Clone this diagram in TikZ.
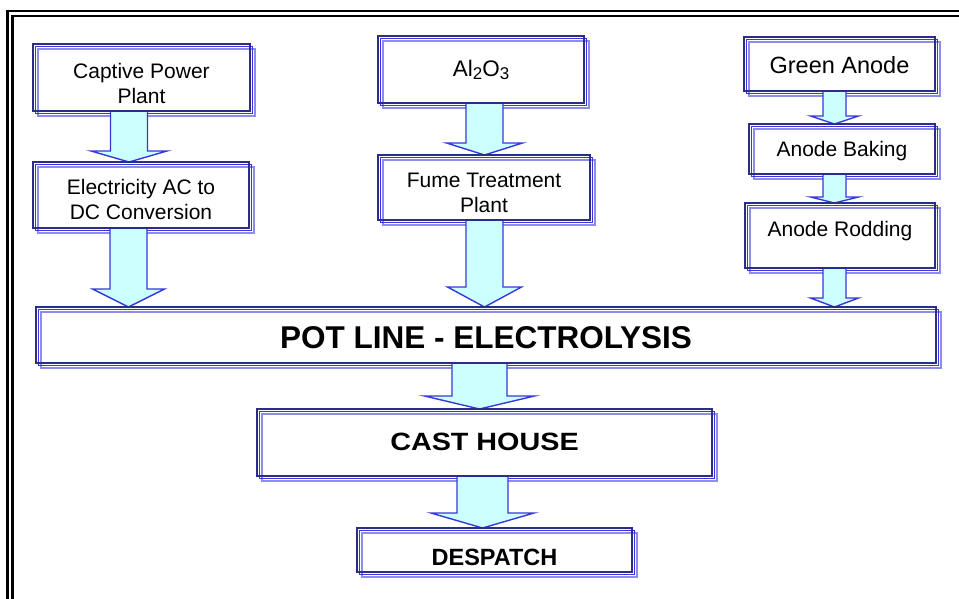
\documentclass[tikz,border=0pt]{standalone}
\usepackage{fontspec}
\setmainfont{Liberation Sans}
\usetikzlibrary{calc,backgrounds}
\definecolor{boxdark}{RGB}{44,44,138}
\definecolor{boxmid}{RGB}{56,56,214}
\definecolor{boxlight}{RGB}{140,140,238}
\definecolor{arrline}{RGB}{56,56,216}
\definecolor{arrfill}{RGB}{204,255,255}
\tikzset{
 procbox/.style={draw=boxdark, line width=1.5pt, rectangle, anchor=north west, inner sep=0pt, outer sep=0pt, align=center, font=\fontsize{21}{25}\selectfont},
 shadowmid/.style={draw=boxmid, line width=1.5pt},
 shadowlight/.style={draw=boxlight, line width=1.8pt},
 arrowbody/.style={fill=arrfill},
 arrowedge/.style={draw=arrline, line width=1.4pt, line join=miter},
 framebar/.style={draw=black, line width=2.6pt, line join=miter},
}
\newcommand\boxshadows[1]{%
 \draw[shadowlight] ([shift={(5.3pt,-5.3pt)}]#1.north west) rectangle ([shift={(5.3pt,-5.3pt)}]#1.south east);
 \draw[shadowmid] ([shift={(2.7pt,-2.7pt)}]#1.north west) rectangle ([shift={(2.7pt,-2.7pt)}]#1.south east);
}
\newcommand\flowarrow[6]{%
 \coordinate (fa-c) at (#3,0);
 \coordinate (fa-s) at (fa-c |- #1.south);
 \coordinate (fa-t) at (fa-c |- #2.north);
 \fill[arrowbody] ($(fa-s)+(-#4,0)$) -- ($(fa-t)+(-#4,-#6)$) -- ($(fa-t)+(-#5,-#6)$) -- (fa-t) -- ($(fa-t)+(#5,-#6)$) -- ($(fa-t)+(#4,-#6)$) -- ($(fa-s)+(#4,0)$) -- cycle;
 \draw[arrowedge] ($(fa-s)+(-#4,0)$) -- ($(fa-t)+(-#4,-#6)$) -- ($(fa-t)+(-#5,-#6)$) -- (fa-t) -- ($(fa-t)+(#5,-#6)$) -- ($(fa-t)+(#4,-#6)$) -- ($(fa-s)+(#4,0)$);
}
\begin{document}
\begin{tikzpicture}[x=1pt,y=-1pt]
\useasboundingbox (0,0) rectangle (959,598);
\begin{scope}
 \clip (0,0) rectangle (959,598);
 \draw[framebar] (7.5,640) -- (7.5,11) -- (990,11);
 \draw[framebar] (12.5,640) -- (12.5,16) -- (990,16);
\end{scope}

\node[procbox, minimum width=217pt, minimum height=67pt, text height=51pt, text depth=0pt] (cpp) at (33,44) {Captive Power\\Plant};
\node[procbox, minimum width=216pt, minimum height=66pt, text height=48pt, text depth=0pt] (elec) at (33,162) {Electricity AC to\\DC Conversion};
\node[procbox, minimum width=206pt, minimum height=67pt, font=\fontsize{22.5}{25}\selectfont, text height=18pt, text depth=5pt] (alo) at (378,36) {Al\raisebox{-3.5pt}{\fontsize{17}{17}\selectfont 2}O\raisebox{-3.5pt}{\fontsize{17}{17}\selectfont 3}};
\node[procbox, minimum width=212pt, minimum height=65pt, text height=49pt, text depth=0pt] (fume) at (378,155) {Fume Treatment\\Plant};
\node[procbox, minimum width=191pt, minimum height=54pt, font=\fontsize{23.5}{25}\selectfont, text height=20pt, text depth=1.4pt] (green) at (744,37) {Green Anode};
\node[procbox, minimum width=186pt, minimum height=50pt, text height=17pt, text depth=1.6pt] (bake) at (749,124) {Anode Baking};
\node[procbox, minimum width=190pt, minimum height=65pt, text height=16pt, text depth=13.6pt] (rod) at (745,203) {Anode Rodding};
\node[procbox, minimum width=900pt, minimum height=56pt, font=\bfseries\fontsize{31.5}{34}\selectfont, text height=28pt, text depth=1.4pt] (pot) at (36,307) {POT LINE - ELECTROLYSIS};
\node[procbox, minimum width=455pt, minimum height=67pt, font=\bfseries\fontsize{25}{28}\selectfont, text height=20pt, text depth=5pt] (cast) at (257,409) {\scalebox{1.15}[1]{CAST HOUSE}};
\node[procbox, minimum width=275pt, minimum height=44pt, font=\bfseries\fontsize{23.5}{26}\selectfont, text height=30pt, text depth=0pt] (desp) at (357,528) {DESPATCH};

\begin{scope}[on background layer]
 \foreach \b in {cpp,elec,alo,fume,green,bake,rod,pot,cast,desp}{\boxshadows{\b}}
 \flowarrow{cpp}{elec}{129}{18.5}{38}{11}
 \flowarrow{elec}{pot}{128.5}{18.5}{36}{18}
 \flowarrow{alo}{fume}{484.5}{18.5}{38}{12}
 \flowarrow{fume}{pot}{484.5}{18.5}{37}{20}
 \flowarrow{green}{bake}{834.5}{11.5}{24}{8}
 \flowarrow{bake}{rod}{834.5}{11.5}{24}{6}
 \flowarrow{rod}{pot}{834.5}{11.5}{24}{9}
 \flowarrow{pot}{cast}{479.5}{27.5}{55}{13}
 \flowarrow{cast}{desp}{482.5}{25.5}{51.5}{15}
\end{scope}
\end{tikzpicture}
\end{document}
